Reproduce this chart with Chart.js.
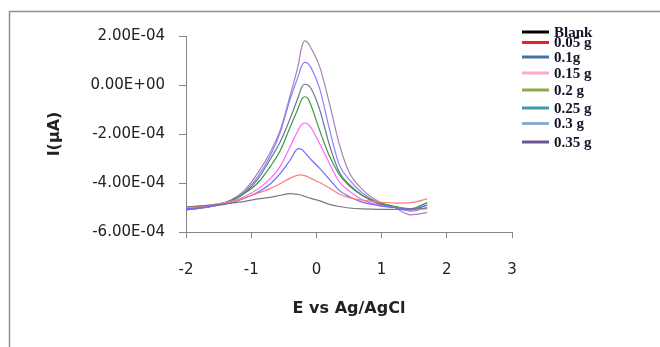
<!DOCTYPE html>
<html>
<head>
<meta charset="utf-8">
<script src="https://cdn.jsdelivr.net/npm/chart.js@4.4.1/dist/chart.umd.min.js"></script>
<style>
  html, body { margin: 0; padding: 0; background: #fff; }
  #wrap { position: relative; width: 660px; height: 347px; }
</style>
</head>
<body>
<div id="wrap"><canvas id="cv" width="660" height="347"></canvas></div>
<script>
// --- data (current in units of 1E-04, potential in V) ---
const potential = [-2, -1.6, -1.3, -1.1, -0.9, -0.7, -0.55, -0.4, -0.28, -0.23, -0.18,
                   -0.13, -0.08, 0.05, 0.2, 0.35, 0.5, 0.7, 0.95, 1.2, 1.45, 1.7];

const seriesLabels = ['Blank', '0.05 g', '0.1g', '0.15 g', '0.2 g', '0.25 g', '0.3 g', '0.35 g'];

const blank = [-4.97, -4.9, -4.82, -4.75, -4.65, -4.58, -4.5, -4.43, -4.47, -4.5, -4.55,
               -4.59, -4.63, -4.73, -4.87, -4.96, -5.02, -5.06, -5.08, -5.08, -5.07, -5.02];
const g005 = [-5.0, -4.88, -4.75, -4.6, -4.42, -4.22, -4.02, -3.8, -3.68, -3.67, -3.7,
              -3.75, -3.82, -3.98, -4.2, -4.45, -4.6, -4.7, -4.77, -4.82, -4.8, -4.65];
const g010 = [-5.05, -4.95, -4.8, -4.62, -4.38, -4.02, -3.6, -3.05, -2.6, -2.62, -2.75,
              -2.9, -3.05, -3.4, -3.85, -4.3, -4.55, -4.78, -4.92, -5.0, -5.07, -4.9];
const g015 = [-5.05, -4.92, -4.75, -4.55, -4.25, -3.8, -3.3, -2.5, -1.85, -1.62, -1.55,
              -1.6, -1.75, -2.4, -3.2, -3.95, -4.32, -4.68, -4.9, -5.0, -5.1, -5.05];
const g020 = [-5.05, -4.92, -4.72, -4.42, -4.0, -3.3, -2.65, -1.7, -0.95, -0.6, -0.48,
              -0.55, -0.85, -1.85, -2.9, -3.65, -4.1, -4.5, -4.8, -4.95, -5.05, -4.8];
const g025 = [-5.1, -4.95, -4.72, -4.4, -3.85, -3.0, -2.3, -1.35, -0.5, -0.12, 0.03,
              0.0, -0.15, -1.0, -2.45, -3.55, -4.05, -4.5, -4.85, -5.0, -5.1, -4.9];
const g030 = [-5.1, -4.95, -4.7, -4.35, -3.75, -2.85, -1.9, -0.55, 0.35, 0.75, 0.92,
              0.88, 0.7, -0.15, -1.8, -3.25, -3.85, -4.4, -4.8, -5.0, -5.15, -5.0];
const g035 = [-5.1, -4.95, -4.67, -4.29, -3.6, -2.7, -1.8, -0.4, 0.8, 1.5, 1.8,
              1.72, 1.5, 0.75, -0.75, -2.4, -3.55, -4.25, -4.75, -5.0, -5.3, -5.2];

const allSeries = [blank, g005, g010, g015, g020, g025, g030, g035];

const lineColors = ['#7a7a7a', '#ff7c7c', '#6b6bff', '#ff66ff', '#3a9a3a', '#6c7896', '#8c80ff', '#a883b0'];
const legendColors = ['#000000', '#e8202a', '#4a70a8', '#ffaacc', '#8aa84c', '#4198ae', '#92aad2', '#6b5690'];

const xTickValues = [-2, -1, 0, 1, 2, 3];
const yTickValues = [-6e-4, -4e-4, -2e-4, 0, 2e-4];
const yTickLabels = ['-6.00E-04', '-4.00E-04', '-2.00E-04', '0.00E+00', '2.00E-04'];

// --- build datasets ---
const datasets = allSeries.map((vals, i) => ({
    label: seriesLabels[i],
    data: vals.map((v, j) => ({ x: potential[j], y: v * 1e-4 })),
    showLine: true,
    borderColor: lineColors[i],
    borderWidth: 1.2,
    pointRadius: 0,
    cubicInterpolationMode: 'monotone',
    fill: false
}));

// frame round the whole figure (only left and top edge visible)
const framePlugin = {
    id: 'frame',
    beforeDraw(chart) {
        const ctx = chart.ctx;
        ctx.save();
        ctx.strokeStyle = '#8f8f8f';
        ctx.lineWidth = 1.5;
        ctx.beginPath();
        ctx.moveTo(9.5, 347);
        ctx.lineTo(9.5, 11.5);
        ctx.lineTo(660, 11.5);
        ctx.stroke();
        ctx.restore();
    }
};

// hand-drawn legend like the original spreadsheet one
const legendRowsY = [32, 42.5, 57, 73, 90, 108, 123.5, 142];
const legendPlugin = {
    id: 'sideLegend',
    afterDraw(chart) {
        const ctx = chart.ctx;
        ctx.save();
        ctx.font = 'bold 15px "Liberation Serif", "Times New Roman", serif';
        ctx.textBaseline = 'middle';
        ctx.fillStyle = '#141428';
        seriesLabels.forEach((lab, i) => {
            const y = legendRowsY[i];
            ctx.strokeStyle = legendColors[i];
            ctx.lineWidth = 3;
            ctx.beginPath();
            ctx.moveTo(522, y);
            ctx.lineTo(549, y);
            ctx.stroke();
            ctx.fillText(lab, 554, y + 1);
        });
        ctx.restore();
    }
};

const axisGray = '#868686';

new Chart(document.getElementById('cv'), {
    type: 'scatter',
    data: { datasets: datasets },
    options: {
        responsive: false,
        animation: false,
        layout: { padding: { left: 41, top: 36, right: 148, bottom: 25 } },
        plugins: {
            legend: { display: false },
            tooltip: { enabled: false }
        },
        scales: {
            x: {
                type: 'linear',
                min: -2,
                max: 3,
                afterBuildTicks: (axis) => { axis.ticks = xTickValues.map(v => ({ value: v })); },
                afterFit: (axis) => { axis.height = 90; },
                border: { color: axisGray, width: 1 },
                grid: { drawOnChartArea: false, drawTicks: true, tickLength: 6, color: axisGray },
                ticks: {
                    padding: 23,
                    color: '#222',
                    font: { family: '"DejaVu Sans", sans-serif', size: 15 },
                    callback: (v) => String(v)
                },
                title: {
                    display: true,
                    text: 'E vs Ag/AgCl',
                    color: '#222',
                    font: { family: '"DejaVu Sans", sans-serif', size: 16, weight: 'bold' }
                }
            },
            y: {
                type: 'linear',
                min: -6e-4,
                max: 2e-4,
                afterBuildTicks: (axis) => { axis.ticks = yTickValues.map(v => ({ value: v })); },
                afterFit: (axis) => { axis.width = 145; },
                border: { color: axisGray, width: 1 },
                grid: { drawOnChartArea: false, drawTicks: true, tickLength: 7, color: axisGray },
                ticks: {
                    padding: 14,
                    color: '#222',
                    font: { family: '"DejaVu Sans", sans-serif', size: 15 },
                    callback: (v, i) => yTickLabels[i]
                },
                title: {
                    display: true,
                    text: 'I(µA)',
                    color: '#222',
                    font: { family: '"DejaVu Sans", sans-serif', size: 16, weight: 'bold' }
                }
            }
        }
    },
    plugins: [framePlugin, legendPlugin]
});
</script>
</body>
</html>
